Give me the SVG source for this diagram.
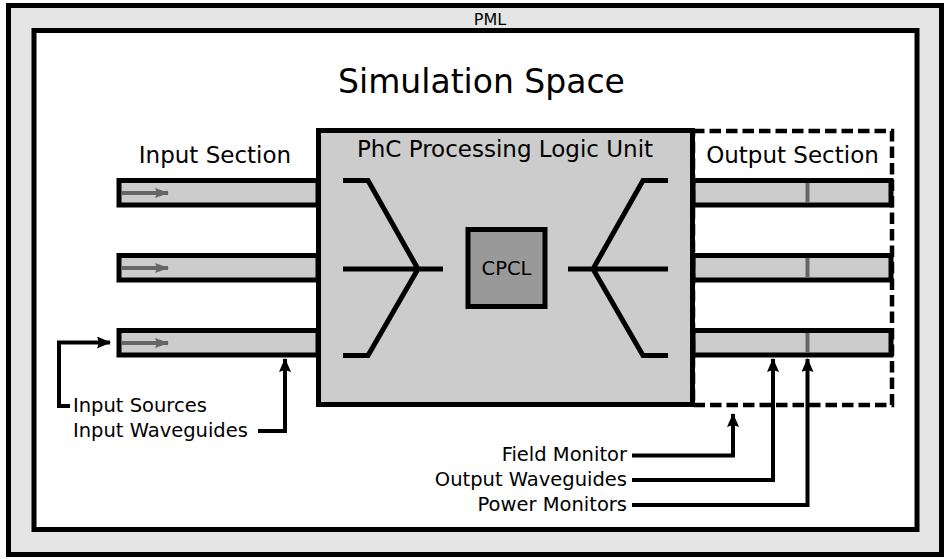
<svg xmlns="http://www.w3.org/2000/svg" width="950" height="559" viewBox="0 0 950 559">
<defs>
<style>
text{font-family:"DejaVu Sans","Noto Sans",sans-serif;fill:#000}
.b{stroke:#000;stroke-width:5;fill:none}
.pml{fill:#e5e5e5;stroke:#000;stroke-width:5}
.sim{fill:#fff;stroke:#000;stroke-width:5}
.unit{fill:#cccccc;stroke:#000;stroke-width:5}
.core{fill:#999999;stroke:#000;stroke-width:5}
.wg{fill:#cccccc;stroke:#000;stroke-width:5}
.lbl{font-size:19.5px}
.sec{font-size:23px}
.conn{stroke:#000;stroke-width:4;fill:none}
.mon{stroke:#666;stroke-width:4}
.src{stroke:#666;stroke-width:4;fill:none}
</style>
<marker id="ah" viewBox="0 0 14 12" refX="13" refY="6" markerWidth="14" markerHeight="12" markerUnits="userSpaceOnUse" orient="auto"><path d="M0,0 L14,6 L0,12 L2,6 z" fill="#000"/></marker>
<marker id="ahg" viewBox="0 0 14 10" refX="13" refY="5" markerWidth="14" markerHeight="10" markerUnits="userSpaceOnUse" orient="auto"><path d="M0,0 L14,5 L0,10 L2,5 z" fill="#666"/></marker>
</defs>
<rect width="950" height="559" fill="#fff"/>
<g id="pml">
<rect x="8.5" y="5.5" width="933" height="549" class="pml"/>
<text x="490" y="25" font-size="16" text-anchor="middle">PML</text>
</g>
<g id="simulation-space">
<rect x="34" y="30.5" width="883" height="499" class="sim"/>
<text x="481.5" y="93" font-size="33" text-anchor="middle">Simulation Space</text>
</g>
<g id="input-section">
<text x="215" y="163" class="sec" text-anchor="middle">Input Section</text>
<rect x="119" y="180.5" width="199" height="24.5" class="wg"/>
<rect x="119" y="255.5" width="199" height="24.5" class="wg"/>
<rect x="119" y="330.5" width="199" height="24.5" class="wg"/>
<line x1="121.5" y1="193" x2="168" y2="193" class="src" marker-end="url(#ahg)"/>
<line x1="121.5" y1="268" x2="168" y2="268" class="src" marker-end="url(#ahg)"/>
<line x1="121.5" y1="343" x2="168" y2="343" class="src" marker-end="url(#ahg)"/>
</g>
<g id="output-section">
<rect x="693" y="180.5" width="198" height="24.5" class="wg"/>
<rect x="693" y="255.5" width="198" height="24.5" class="wg"/>
<rect x="693" y="330.5" width="198" height="24.5" class="wg"/>
<line x1="807.5" y1="183" x2="807.5" y2="203" class="mon"/>
<line x1="807.5" y1="258" x2="807.5" y2="278" class="mon"/>
<line x1="807.5" y1="333" x2="807.5" y2="353" class="mon"/>
<rect x="693" y="131" width="199" height="274" fill="none" stroke="#000" stroke-width="4.5" stroke-dasharray="11.5,5"/>
<text x="792.5" y="163" class="sec" text-anchor="middle">Output Section</text>
</g>
<g id="phc-unit">
<rect x="318.5" y="130.5" width="374" height="274" class="unit"/>
<text x="505" y="157" class="sec" text-anchor="middle">PhC Processing Logic Unit</text>
<path d="M343,180.5 H368 L418,269 L368,355.5 H343 M343,269 H443" class="b"/>
<path d="M668,180.5 H643 L593,269 L643,355.5 H668 M668,269 H568" class="b"/>
</g>
<g id="cpcl">
<rect x="468" y="229.5" width="77" height="77" class="core"/>
<text x="506.5" y="275" font-size="19.5" text-anchor="middle">CPCL</text>
</g>
<g id="labels">
<text x="73" y="412" class="lbl">Input Sources</text>
<text x="73" y="437" class="lbl">Input Waveguides</text>
<text x="627" y="461" class="lbl" text-anchor="end">Field Monitor</text>
<text x="627" y="486" class="lbl" text-anchor="end">Output Waveguides</text>
<text x="627" y="511" class="lbl" text-anchor="end">Power Monitors</text>
</g>
<g id="connectors">
<path d="M70,406 H59 V342.5 H110" class="conn" marker-end="url(#ah)"/>
<path d="M258,431 H285 V359" class="conn" marker-end="url(#ah)"/>
<path d="M632,455.5 H733 V414" class="conn" marker-end="url(#ah)"/>
<path d="M632,480 H773 V359" class="conn" marker-end="url(#ah)"/>
<path d="M632,505 H807.5 V359" class="conn" marker-end="url(#ah)"/>
</g>
</svg>
